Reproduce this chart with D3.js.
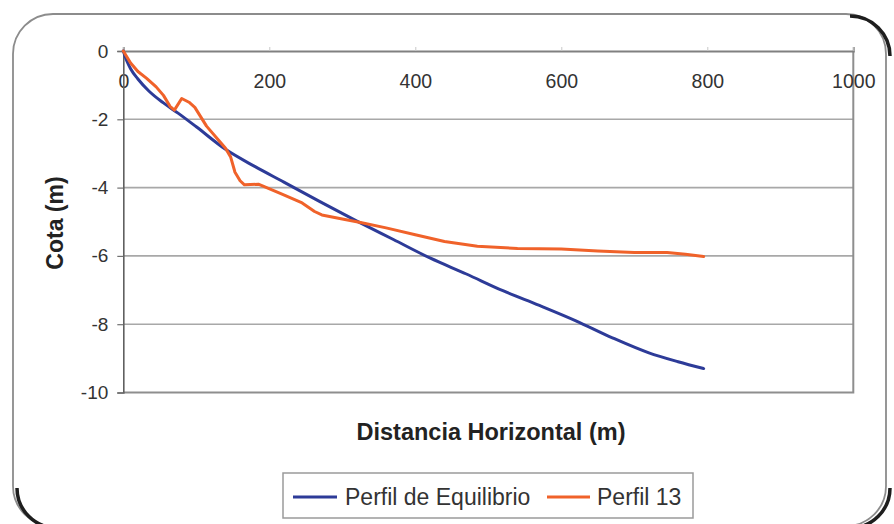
<!DOCTYPE html>
<html>
<head>
<meta charset="utf-8">
<script src="https://cdn.jsdelivr.net/npm/d3@7"></script>
<style>
  html, body { margin: 0; padding: 0; background: #ffffff; }
  svg { display: block; font-family: "Liberation Sans", Arial, sans-serif; }
</style>
</head>
<body>
<svg id="chart" width="894" height="524"></svg>
<script>
// Beach profile: horizontal distance (m) vs. elevation (m)
const xTicks = [0, 200, 400, 600, 800, 1000];
const yTicks = [0, -2, -4, -6, -8, -10];

const seriesNames = ["Perfil de Equilibrio", "Perfil 13"];
const seriesColors = ["#2d3b98", "#f0622a"];

// Perfil de Equilibrio
const equilibrio = [
  [0, 0], [5, -0.3], [10, -0.52], [20, -0.82], [35, -1.17], [55, -1.52],
  [75, -1.82], [100, -2.22], [140, -2.88], [180, -3.38], [220, -3.84],
  [270, -4.42], [320, -4.98], [370, -5.52], [420, -6.06], [470, -6.53],
  [520, -7.02], [570, -7.45], [620, -7.9], [670, -8.4], [720, -8.84],
  [760, -9.1], [795, -9.3]
];

// Perfil 13
const perfil13 = [
  [0, 0], [10, -0.35], [20, -0.6], [32, -0.8], [45, -1.05], [55, -1.3],
  [64, -1.62], [70, -1.73], [80, -1.39], [90, -1.5], [98, -1.65],
  [114, -2.2], [130, -2.6], [140, -2.85], [147, -3.1], [153, -3.55],
  [160, -3.8], [166, -3.92], [185, -3.9], [215, -4.17], [245, -4.45],
  [262, -4.7], [272, -4.8], [300, -4.92], [325, -5.02], [360, -5.18],
  [400, -5.38], [440, -5.58], [485, -5.72], [540, -5.78], [600, -5.8],
  [650, -5.86], [700, -5.9], [745, -5.9], [770, -5.95], [795, -6.02]
];

const svg = d3.select("#chart");

// chart area frame with rounded corners
const frame = { x0: 13, y0: 14, x1: 886, y1: 526, r: 40 };
svg.append("rect")
  .attr("x", frame.x0).attr("y", frame.y0)
  .attr("width", frame.x1 - frame.x0).attr("height", frame.y1 - frame.y0)
  .attr("rx", frame.r).attr("ry", frame.r)
  .attr("fill", "#ffffff")
  .attr("stroke", "#8c8c8c")
  .attr("stroke-width", 1.8);

// darker shading on three corners of the frame
const cornerPaths = [
  `M${frame.x1 - frame.r},${frame.y0} A${frame.r},${frame.r} 0 0 1 ${frame.x1},${frame.y0 + frame.r}`,
  `M${frame.x1},${frame.y1 - frame.r} A${frame.r},${frame.r} 0 0 1 ${frame.x1 - frame.r},${frame.y1}`,
  `M${frame.x0 + frame.r},${frame.y1} A${frame.r},${frame.r} 0 0 1 ${frame.x0},${frame.y1 - frame.r}`
];
svg.append("g")
  .selectAll("path")
  .data(cornerPaths)
  .join("path")
  .attr("d", d => d)
  .attr("fill", "none")
  .attr("stroke", "#1e1e1e")
  .attr("stroke-width", 3.5)
  .attr("transform", "translate(4,2)");

const plot = { left: 123.3, right: 853.3, top: 51, bottom: 392.5 };

const x = d3.scaleLinear().domain([0, 1000]).range([plot.left, plot.right]);
const y = d3.scaleLinear().domain([-10, 0]).range([plot.bottom, plot.top]);

// horizontal gridlines
svg.append("g")
  .selectAll("line")
  .data(yTicks.filter(d => d !== 0 && d !== -10))
  .join("line")
  .attr("x1", plot.left).attr("x2", plot.right)
  .attr("y1", d => y(d)).attr("y2", d => y(d))
  .attr("stroke", "#a8a8a8")
  .attr("stroke-width", 1.6);

// plot border (right and bottom)
svg.append("path")
  .attr("d", `M${plot.right},${plot.top}V${plot.bottom}H${plot.left}`)
  .attr("fill", "none")
  .attr("stroke", "#8e8e8e")
  .attr("stroke-width", 2);

// x axis along y = 0
const xAxis = d3.axisTop(x).tickValues(xTicks).tickSize(4).tickFormat(d3.format("d"));
const gx = svg.append("g")
  .attr("transform", `translate(0,${y(0)})`)
  .call(xAxis);
gx.select(".domain").attr("stroke", "#808080").attr("stroke-width", 2);
gx.selectAll(".tick line").attr("stroke", "#c8c8c8");
gx.selectAll(".tick text")
  .attr("y", 37)
  .attr("dy", 0)
  .attr("fill", "#333333")
  .style("font-size", "19.5px")
  .style("font-family", "'Liberation Sans', Arial, sans-serif");

// y axis along x = 0
const yAxis = d3.axisLeft(y).tickValues(yTicks).tickSize(6).tickFormat(d => d === 0 ? "0" : "-" + Math.abs(d));
const gy = svg.append("g")
  .attr("transform", `translate(${x(0)},0)`)
  .call(yAxis);
gy.select(".domain").attr("stroke", "#606060").attr("stroke-width", 1.6);
gy.selectAll(".tick line").attr("stroke", "#707070").attr("stroke-width", 1.2);
gy.selectAll(".tick text")
  .attr("x", -15)
  .attr("fill", "#333333")
  .style("font-size", "19px")
  .style("font-family", "'Liberation Sans', Arial, sans-serif");

// profile lines
const curves = [d3.curveMonotoneX, d3.curveLinear];
[equilibrio, perfil13].forEach((data, i) => {
  const line = d3.line().x(d => x(d[0])).y(d => y(d[1])).curve(curves[i]);
  svg.append("path")
    .datum(data)
    .attr("d", line)
    .attr("fill", "none")
    .attr("stroke", seriesColors[i])
    .attr("stroke-width", 3)
    .attr("stroke-linejoin", "round")
    .attr("stroke-linecap", "round");
});

// axis titles
svg.append("text")
  .attr("x", 491).attr("y", 440)
  .attr("text-anchor", "middle")
  .attr("font-weight", "bold")
  .attr("font-size", 23.5)
  .attr("fill", "#222222")
  .text("Distancia Horizontal (m)");

svg.append("text")
  .attr("transform", "translate(63,223) rotate(-90)")
  .attr("text-anchor", "middle")
  .attr("font-weight", "bold")
  .attr("font-size", 23)
  .attr("fill", "#222222")
  .text("Cota (m)");

// legend
const legend = svg.append("g");
legend.append("rect")
  .attr("x", 283).attr("y", 473)
  .attr("width", 410).attr("height", 45)
  .attr("fill", "#ffffff")
  .attr("stroke", "#9a9a9a")
  .attr("stroke-width", 1.5);

const legendItems = [
  { x1: 293, x2: 337, tx: 345 },
  { x1: 547, x2: 590, tx: 597 }
];
legendItems.forEach((it, i) => {
  legend.append("line")
    .attr("x1", it.x1).attr("x2", it.x2)
    .attr("y1", 497).attr("y2", 497)
    .attr("stroke", seriesColors[i])
    .attr("stroke-width", 3);
  legend.append("text")
    .attr("x", it.tx).attr("y", 505)
    .attr("font-size", 23)
    .attr("fill", "#333333")
    .text(seriesNames[i]);
});
</script>
</body>
</html>
